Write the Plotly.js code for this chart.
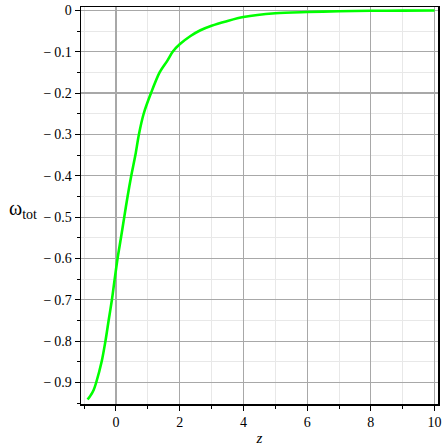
<!DOCTYPE html>
<html>
<head>
<meta charset="utf-8">
<script src="https://cdn.plot.ly/plotly-3.0.1.min.js"></script>
<style>
  html, body { margin: 0; padding: 0; background: #fff; }
  #plot { width: 448px; height: 447px; }
</style>
</head>
<body>
<div id="plot"></div>
<script>
// valores
const zVals = [-0.89, -0.81, -0.70, -0.62, -0.45, -0.33, -0.23, -0.127, -0.04, 0.05, 0.157, 0.26, 0.365, 0.48,
               0.61, 0.72, 0.87, 1.10, 1.37, 1.61, 1.78, 2, 2.34, 2.65, 3, 3.48, 4, 5, 6, 7, 8, 9, 10];
const wVals = [-0.941, -0.933, -0.918, -0.90, -0.85, -0.80, -0.75, -0.70, -0.65, -0.60, -0.55, -0.50, -0.45, -0.40,
               -0.35, -0.30, -0.25, -0.20, -0.15, -0.122, -0.10, -0.082, -0.062, -0.048, -0.037, -0.026, -0.016,
               -0.007, -0.004, -0.002, -0.001, -0.0005, -0.0002];

const yTickVals = [0, -0.1, -0.2, -0.3, -0.4, -0.5, -0.6, -0.7, -0.8, -0.9];
const yTickText = ['0', '\u2212\u20090.1', '\u2212\u20090.2', '\u2212\u20090.3', '\u2212\u20090.4',
                   '\u2212\u20090.5', '\u2212\u20090.6', '\u2212\u20090.7', '\u2212\u20090.8', '\u2212\u20090.9'];
const xTickVals = [0, 2, 4, 6, 8, 10];

const serif = 'Liberation Serif, DejaVu Serif, serif';

const curve = {
  x: zVals,
  y: wVals,
  type: 'scatter',
  mode: 'lines',
  line: { color: '#00ff00', width: 2.6, shape: 'spline', smoothing: 0.8 },
  hoverinfo: 'skip'
};

const layout = {
  width: 448,
  height: 447,
  margin: { l: 81, r: 10, t: 7, b: 43 },
  paper_bgcolor: '#fff',
  plot_bgcolor: '#fff',
  showlegend: false,
  font: { family: serif, size: 14, color: '#000' },
  xaxis: {
    range: [-1.097, 10.107],
    tickvals: xTickVals,
    ticks: 'outside', ticklen: 5, tickwidth: 1, tickcolor: '#000',
    showline: true, linecolor: '#000', linewidth: 1.5, mirror: true,
    showgrid: true, gridcolor: '#a8a8a8', gridwidth: 1.2,
    zeroline: false,
    minor: { dtick: 1, tick0: 0, ticks: 'outside', ticklen: 3, tickcolor: '#000',
             showgrid: true, gridcolor: '#e8e8e8', gridwidth: 1 },
    tickfont: { family: serif, size: 14, color: '#000' },
    title: { text: '<i>z</i>', font: { family: serif, size: 15, color: '#000' }, standoff: 3 }
  },
  yaxis: {
    range: [-0.952, 0.0082],
    tickvals: yTickVals,
    ticktext: yTickText,
    ticks: 'outside', ticklen: 5, tickwidth: 1, tickcolor: '#000',
    showline: true, linecolor: '#000', linewidth: 1.5, mirror: true,
    showgrid: true, gridcolor: '#a8a8a8', gridwidth: 1.2,
    zeroline: false,
    minor: { dtick: 0.05, tick0: 0, ticks: 'outside', ticklen: 3, tickcolor: '#000',
             showgrid: true, gridcolor: '#e8e8e8', gridwidth: 1 },
    tickfont: { family: serif, size: 14, color: '#000' }
  },
  annotations: [{
    xref: 'paper', yref: 'paper',
    x: -0.207, y: 0.49,
    xanchor: 'left', yanchor: 'middle',
    text: '\u03c9<sub>tot</sub>',
    showarrow: false,
    font: { family: serif, size: 20, color: '#000' }
  }]
};

Plotly.newPlot('plot', [curve], layout, { displayModeBar: false, staticPlot: true });
</script>
</body>
</html>
